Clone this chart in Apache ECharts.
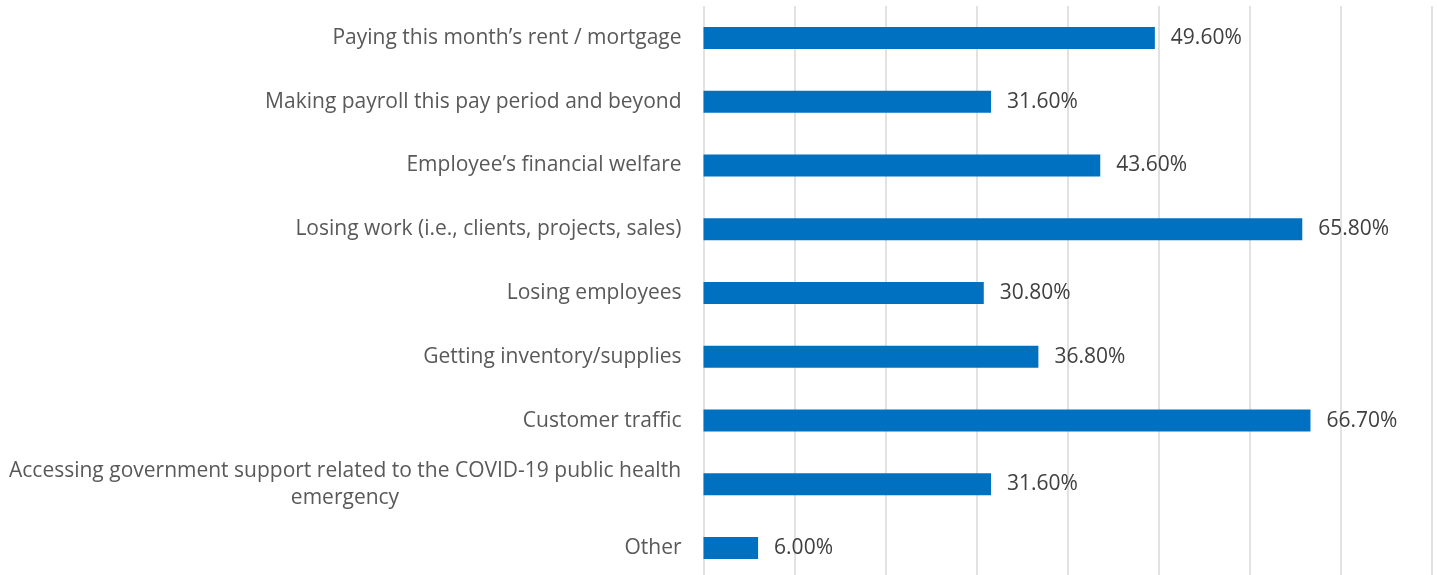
<!DOCTYPE html>
<html>
<head>
<meta charset="utf-8">
<script src="https://cdn.jsdelivr.net/npm/echarts@6/dist/echarts.min.js"></script>
<style>
  html, body { margin: 0; padding: 0; background: #fff; }
  #chart { width: 1437px; height: 575px; }
</style>
</head>
<body>
<div id="chart"></div>
<script>
    // concerns, top to bottom
    let categories = [
        'Paying this month\u2019s rent / mortgage',
        'Making payroll this pay period and beyond',
        'Employee\u2019s financial welfare',
        'Losing work (i.e., clients, projects, sales)',
        'Losing employees',
        'Getting inventory/supplies',
        'Customer traffic',
        'Accessing government support related to the COVID-19 public health\nemergency',
        'Other'
    ];
    let values = [49.6, 31.6, 43.6, 65.8, 30.8, 36.8, 66.7, 31.6, 6.0];

    let chart = echarts.init(document.getElementById('chart'));
    let font = '"Open Sans"';
    let fontSize = 21;

    // width of the longest line, so wrapped labels can be centred like in Excel
    let ctx = document.createElement('canvas').getContext('2d');
    ctx.font = fontSize + 'px ' + font;
    function lineWidth(s) {
        return Math.ceil(ctx.measureText(s).width);
    }
    let wrapWidth = Math.max.apply(null, categories.map(function (c) {
        return c.indexOf('\n') >= 0 ? Math.max.apply(null, c.split('\n').map(lineWidth)) : 0;
    }));

    let option = {
        animation: false,
        grid: {
            left: 703.5,
            right: 5.5,
            top: 6,
            height: 574,
            containLabel: false,
            outerBoundsMode: 'none'
        },
        xAxis: {
            type: 'value',
            min: 0,
            max: 80,
            interval: 10,
            axisLabel: {show: false},
            axisLine: {show: false},
            axisTick: {show: false},
            splitLine: {
                show: true,
                lineStyle: {color: '#d9d9d9', width: 1.5}
            }
        },
        yAxis: {
            type: 'category',
            inverse: true,
            data: categories,
            axisLine: {show: false},
            axisTick: {show: false},
            axisLabel: {
                margin: 22,
                fontFamily: font,
                fontSize: fontSize,
                color: '#595959',
                formatter: function (value) {
                    if (value.indexOf('\n') >= 0) {
                        return value.split('\n').map(function (s) {
                            return '{c|' + s + '}';
                        }).join('\n');
                    }
                    return value;
                },
                rich: {
                    c: {
                        align: 'center',
                        width: wrapWidth,
                        fontFamily: font,
                        fontSize: fontSize,
                        color: '#595959',
                        lineHeight: 27
                    }
                }
            }
        },
        series: [{
            type: 'bar',
            data: values,
            barWidth: 22,
            itemStyle: {color: '#0070c0'},
            label: {
                show: true,
                position: 'right',
                distance: 16,
                fontFamily: font,
                fontSize: fontSize,
                color: '#404040',
                formatter: function (p) {
                    return p.value.toFixed(2) + '%';
                }
            }
        }]
    };

    chart.setOption(option);
    window.onresize = () => {
        chart.resize();
    };
</script>
</body>
</html>
